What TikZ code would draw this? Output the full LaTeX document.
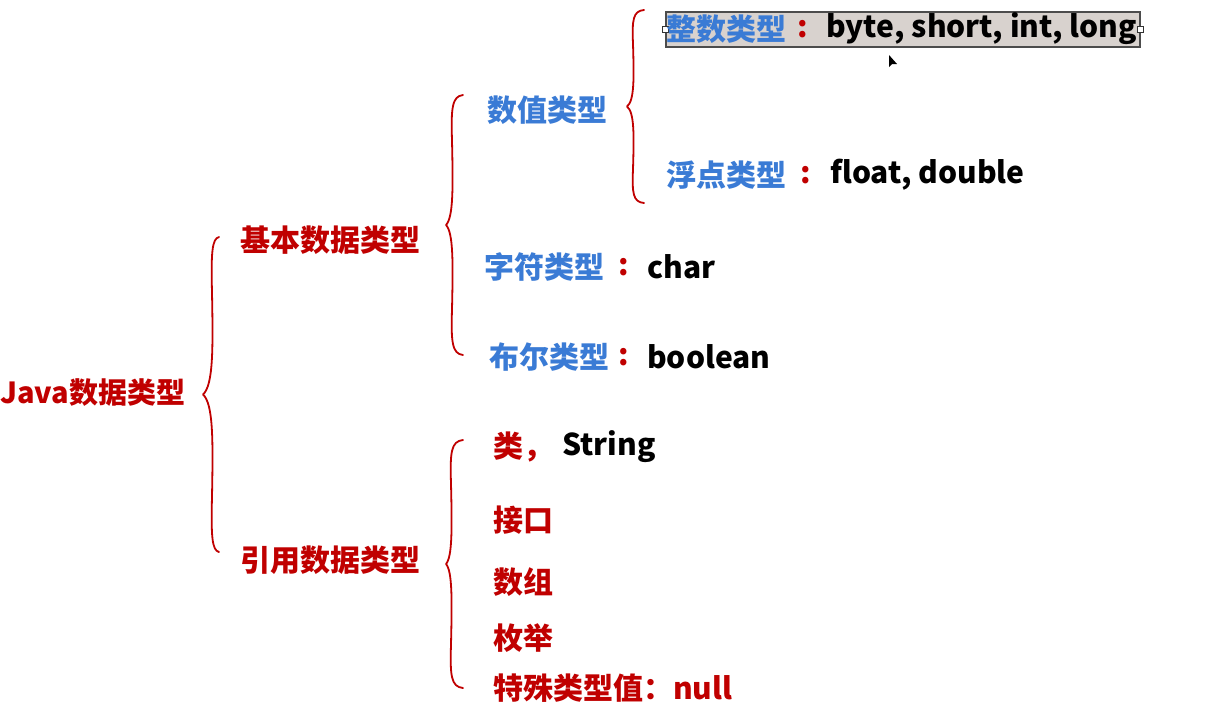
\documentclass[tikz,border=0pt]{standalone}
\usepackage{fontspec}
\setmainfont{Noto Sans CJK SC}
\definecolor{cred}{HTML}{C00000}
\definecolor{cblue}{HTML}{3A7BD5}
\definecolor{boxfill}{HTML}{D8D2CE}
\tikzset{
  txt/.style={anchor=west, inner sep=0pt, font=\bfseries\fontsize{30}{30}\selectfont},
  rtxt/.style={txt, text=cred},
  btxt/.style={txt, text=cblue},
  colon/.style={txt, anchor=center, text=cred},
  bline/.style={draw=cred, line width=1.8pt, line cap=round, line join=round},
  selbox/.style={draw=black!70, fill=boxfill, line width=1.2pt, inner sep=0pt},
  handle/.style={draw=black!80, fill=white, line width=0.6pt, minimum size=6pt, inner sep=0pt},
}
% #1 end x, #2 straight x, #3 tip x, #4 top y, #5 bottom y
\newcommand{\cbrace}[5]{%
  \pgfmathsetmacro\bym{(#4+#5)/2}%
  \pgfmathsetmacro\bhh{(#5-#4)/2}%
  \draw[bline] (#1,#4) .. controls (#2,#4+0.01*\bhh) and (#2-1,#4+0.1*\bhh) .. (#2,#4+0.35*\bhh)
    .. controls (#2+1,#4+0.7*\bhh) and (#2+1.5,\bym-0.06*\bhh) .. (#3,\bym)
    .. controls (#2+1.5,\bym+0.06*\bhh) and (#2+1,\bym+0.3*\bhh) .. (#2,\bym+0.65*\bhh)
    .. controls (#2-1,#5-0.1*\bhh) and (#2,#5-0.01*\bhh) .. (#1,#5);%
}
\begin{document}
\begin{tikzpicture}[x=1pt, y=-1pt]
\useasboundingbox (0,0) rectangle (1221,710);
\fill[white] (0,0) rectangle (1221,710);

% selection box
\node[selbox, minimum width=474pt, minimum height=35pt] (intbox) at (903,29.5) {};
\node[handle] (hl) at (intbox.west) {};
\node[handle] (hr) at (intbox.east) {};

% level 0
\node[rtxt, font=\bfseries\fontsize{29}{29}\selectfont] (java) at (0,393) {Java数据类型};

% level 1
\node[rtxt] (basic) at (240,240) {基本数据类型};
\node[rtxt] (ref) at (240,560) {引用数据类型};

% level 2 basic
\node[btxt] (num) at (487,110) {数值类型};
\node[btxt] (chr) at (484,267) {字符类型};
\node[colon] (chrc) at (624,267) {:};
\node[txt] (chrv) at (647,267) {char};
\node[btxt] (bool) at (489,357) {布尔类型};
\node[colon] (boolc) at (624,357) {:};
\node[txt] (boolv) at (647,357) {boolean};

% level 3 numeric
\node[btxt] (int) at (666,29) {整数类型};
\node[colon] (intc) at (803,29) {:};
\node[txt] (intv) at (826,29) {byte, short, int, long};
\node[btxt] (flt) at (666,175) {浮点类型};
\node[colon] (fltc) at (806,175) {:};
\node[txt] (fltv) at (830,175) {float, double};

% level 2 reference
\node[rtxt] (cls) at (493,447) {类，};
\node[txt] (str) at (562,447) {String};
\node[rtxt] (itf) at (493,520) {接口};
\node[rtxt] (arr) at (493,582) {数组};
\node[rtxt] (enm) at (493,638) {枚举};
\node[rtxt] (nul) at (493,688) {特殊类型值：null};

% braces
\cbrace{219}{212}{203}{237}{552}
\cbrace{463}{452}{446}{95}{355}
\cbrace{644}{633}{627}{10}{203}
\cbrace{463}{451}{446}{440}{688}

% mouse cursor
\fill[black] (889,55) -- (889,67) -- (892,64) -- (897,64) -- cycle;
\end{tikzpicture}
\end{document}
